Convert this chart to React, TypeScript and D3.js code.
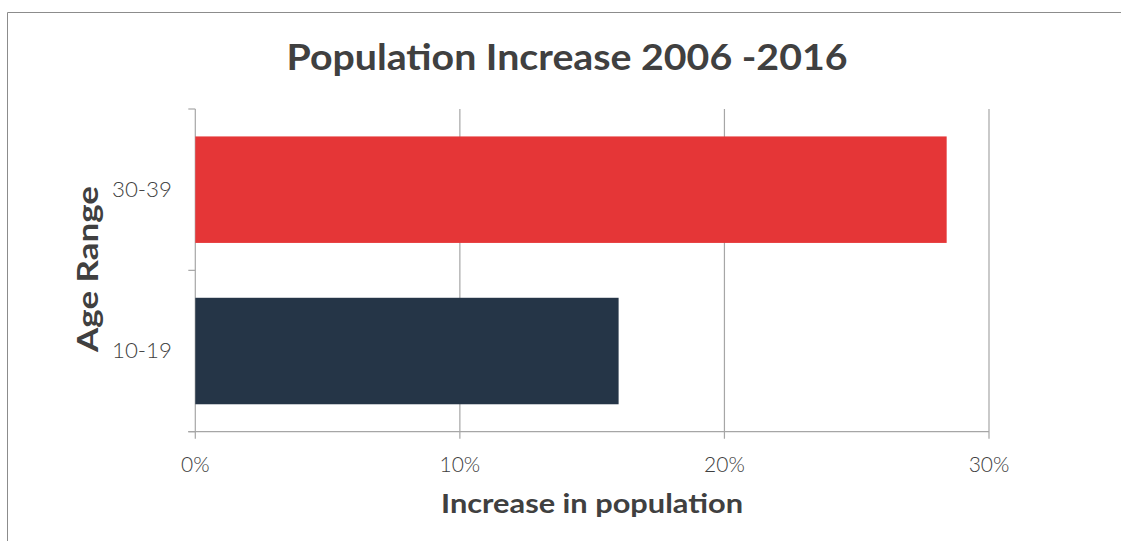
import React from "react";
import * as d3 from "d3";

const categories = ["10-19", "30-39"];
const values = [0.16, 0.284];
const barColors = ["#253547", "#E53637"];
const xTicks = [0, 0.1, 0.2, 0.3];
const title = "Population Increase 2006 -2016";
const xTitle = "Increase in population";
const yTitle = "Age Range";

const W = 1121;
const H = 541;
const font = "Lato, 'Open Sans', sans-serif";

export default function App() {
  const left = 195.3;
  const right = 989;
  const top = 109;
  const bottom = 431.7;
  const x = d3.scaleLinear().domain([0, 0.3]).range([left, right]);
  const y = d3
    .scaleBand<string>()
    .domain([...categories].reverse())
    .range([top, bottom])
    .paddingInner(0.34)
    .paddingOuter(0.17);
  const bandEdges = [top, (top + bottom) / 2, bottom];
  const fmt = d3.format(".0%");
  return (
    <svg
      width={W}
      height={H}
      style={{ position: "absolute", left: 0, top: 0, background: "#fff" }}
    >
      <rect x={0} y={0} width={W} height={H} fill="#fff" />
      <line x1={7.5} y1={12.5} x2={W} y2={12.5} stroke="#8c8c8c" strokeWidth={1} />
      <line x1={7.5} y1={12.5} x2={7.5} y2={H} stroke="#8c8c8c" strokeWidth={1} />
      <text
        x={567}
        y={70}
        textAnchor="middle"
        fontFamily={font}
        fontWeight={700}
        fontSize={37}
        fill="#404040"
        textLength={561}
        lengthAdjust="spacingAndGlyphs"
      >
        {title}
      </text>
      {xTicks.map((t) => (
        <line
          key={"g" + t}
          x1={x(t)}
          x2={x(t)}
          y1={top}
          y2={bottom + 7}
          stroke="#a6a6a6"
          strokeWidth={1.2}
        />
      ))}
      {bandEdges.map((e, i) => (
        <line key={"yt" + i} x1={left - 7} x2={left} y1={e} y2={e} stroke="#a6a6a6" strokeWidth={1.2} />
      ))}
      <line x1={left - 7} x2={right} y1={bottom} y2={bottom} stroke="#a6a6a6" strokeWidth={1.2} />
      {categories.map((c, i) => (
        <rect
          key={c}
          x={x(0)}
          y={y(c)}
          width={x(values[i]) - x(0)}
          height={y.bandwidth()}
          fill={barColors[i]}
        />
      ))}
      {categories.map((c) => (
        <text
          key={"l" + c}
          x={172}
          y={(y(c) as number) + y.bandwidth() / 2}
          dy="0.35em"
          textAnchor="end"
          fontFamily={font}
          fontSize={21}
          fontWeight={300}
          fill="#404040"
          textLength={60}
          lengthAdjust="spacingAndGlyphs"
        >
          {c}
        </text>
      ))}
      {xTicks.map((t) => (
        <text
          key={"xl" + t}
          x={x(t)}
          y={472}
          textAnchor="middle"
          fontFamily={font}
          fontSize={21}
          fontWeight={300}
          fill="#404040"
        >
          {fmt(t)}
        </text>
      ))}
      <text
        x={592}
        y={513}
        textAnchor="middle"
        fontFamily={font}
        fontWeight={700}
        fontSize={27}
        fill="#404040"
        textLength={302}
        lengthAdjust="spacingAndGlyphs"
      >
        {xTitle}
      </text>
      <text
        transform={`translate(98,269) rotate(-90)`}
        textAnchor="middle"
        fontFamily={font}
        fontWeight={700}
        fontSize={29}
        fill="#404040"
        textLength={166}
        lengthAdjust="spacingAndGlyphs"
      >
        {yTitle}
      </text>
    </svg>
  );
}
